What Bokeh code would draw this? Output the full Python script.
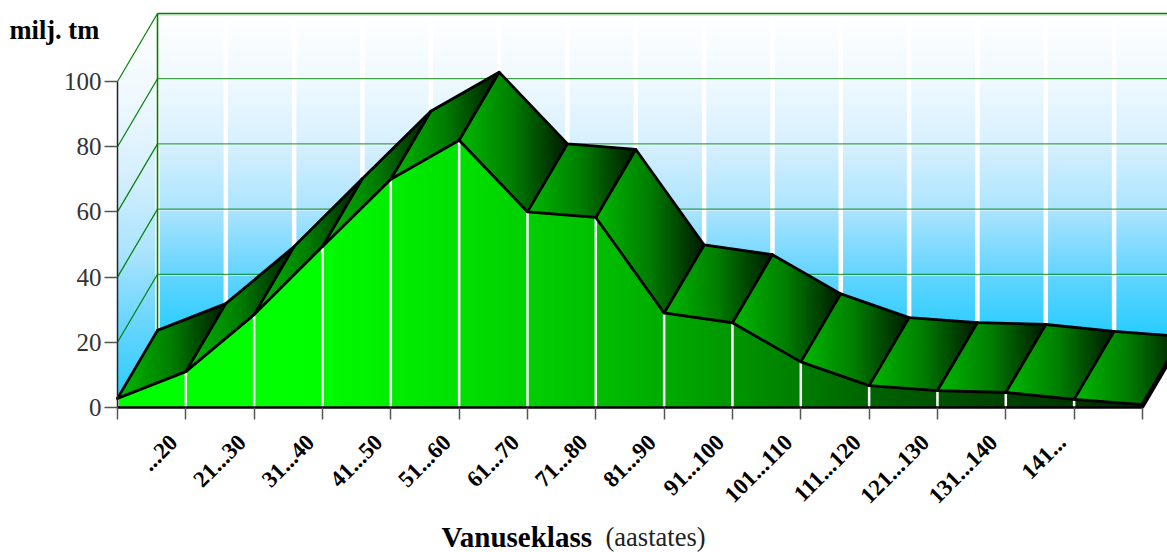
from bokeh.plotting import figure
from bokeh.models import ColumnDataSource, FixedTicker, Range1d
from bokeh.core.properties import value
from bokeh.embed import file_html
from bokeh.resources import INLINE
import numpy as np

classes = ["...20", "21...30", "31...40", "41...50", "51...60", "61...70", "71...80", "81...90",
           "91...100", "101...110", "111...120", "121...130", "131...140", "141..."]
volume = [2.8, 11.0, 28.5, 49.4, 70.0, 82.0, 60.0, 58.3, 29.0, 26.0, 14.0, 6.7, 5.2, 4.6, 2.5, 0.9]
y_ticks = [0, 20, 40, 60, 80, 100]
y_label = "milj. tm"
x_title_bold = "Vanuseklass"
x_title_rest = "(aastates)"

SERIF = "Liberation Serif"
W, H = 1167, 552
ORIGIN_X, ORIGIN_Y = 117, 407   # canvas position of the data origin
PX_X, PX_Y = 68.33, 3.26
DX, DY = 40 / PX_X, 68 / PX_Y
TOP = 100 + DY
N = len(volume) - 1
xs = list(range(N + 1))

wall_stops = [(0.0, (255, 255, 255)), (0.2, (240, 249, 255)), (0.4, (215, 240, 255)),
              (0.6, (172, 228, 255)), (0.8, (100, 212, 255)), (1.0, (34, 204, 255))]
front_stops = [(0.0, 255), (0.18, 255), (0.33, 225), (0.47, 190), (0.60, 150), (0.73, 100), (0.87, 65), (1.0, 40)]
panel_stops = [(0.0, 185), (0.5, 125), (1.0, 24)]


def rgb(c):
    return "#%02x%02x%02x" % tuple(int(round(v)) for v in c)


def wall_col(t):
    ts = [s[0] for s in wall_stops]
    return rgb([np.interp(t, ts, [s[1][k] for s in wall_stops]) for k in range(3)])


def green(t, stops):
    return rgb((0, np.interp(t, [s[0] for s in stops], [s[1] for s in stops]), 0))


def clip(poly, axis, lo, hi):
    def half(pts, keep, edge):
        out = []
        for i, a in enumerate(pts):
            b = pts[(i + 1) % len(pts)]
            if keep(a[axis]):
                out.append(a)
            if keep(a[axis]) != keep(b[axis]):
                t = (edge - a[axis]) / (b[axis] - a[axis])
                out.append((a[0] + t * (b[0] - a[0]), a[1] + t * (b[1] - a[1])))
        return out
    pts = half(poly, lambda v: v >= lo, lo)
    return half(pts, lambda v: v <= hi, hi) if pts else []


def strips(poly, axis, step_px, colfn, rng=None):
    """Cut a polygon into bands; each band runs on under the next one, so no seam shows."""
    scale = PX_X if axis == 0 else PX_Y
    vals = [q[axis] for q in poly]
    lo, hi = min(vals), max(vals)
    rlo, rhi = rng if rng else (lo, hi)
    k = int(np.floor(lo * scale / step_px))
    px, py, cs = [], [], []
    while k * step_px / scale < hi:
        a, b = k * step_px / scale, (k + 1) * step_px / scale
        part = clip(poly, axis, a, b + 2 * step_px / scale)
        if len(part) >= 3:
            px.append([q[0] for q in part])
            py.append([q[1] for q in part])
            cs.append(colfn(((a + b) / 2 - rlo) / (rhi - rlo)))
        k += 1
    return px, py, cs


p = figure(width=W, height=H, output_backend="svg", toolbar_location=None,
           x_range=Range1d(-ORIGIN_X / PX_X, (W - ORIGIN_X) / PX_X),
           y_range=Range1d(-(H - ORIGIN_Y) / PX_Y, ORIGIN_Y / PX_Y),
           min_border_left=0, min_border_right=0, min_border_top=0, min_border_bottom=0)
p.grid.visible = False
p.outline_line_color = None
p.background_fill_color = "white"
p.border_fill_color = "white"


def add(px, py, cs):
    p.patches(px, py, fill_color=cs, line_color=None)


# side wall and back wall
side = [(0, 0), (DX, DY), (DX, TOP), (0, 100)]
add(*strips(side, 1, 1, lambda t: wall_col(1 - t)))
back = [(DX, DY), (N + DX, DY), (N + DX, TOP), (DX, TOP)]
add(*strips(back, 1, 1, lambda t: wall_col(1 - t)))

# white back stripes
p.segment([i + DX for i in xs], [DY] * (N + 1), [i + DX for i in xs], [TOP] * (N + 1), line_color="white", line_width=4.5)

# grid
GRID = "#008000"
for t in y_ticks:
    if t == 100:
        p.line([DX, N + DX], [t + DY - 0.5] * 2, line_color="#b8e8b8", line_width=1)
        p.line([DX, N + DX], [t + DY] * 2, line_color=GRID, line_width=1.6)
    else:
        p.line([DX, N + DX], [t + DY - 0.35] * 2, line_color="white", line_alpha=0.55, line_width=1)
        p.line([DX, N + DX], [t + DY] * 2, line_color=GRID, line_width=1, line_alpha=0.9)
    if t > 0:
        p.line([0, DX], [t, t + DY], line_color=GRID, line_width=1.2)
p.line([DX, DX], [DY, TOP], line_color=GRID, line_width=1.6)

# front face
fx, fy, fc = [], [], []
for i in range(N):
    cell = [(i, 0), (i, volume[i]), (i + 1, volume[i + 1]), (i + 1, 0)]
    a, b, c = strips(cell, 0, 3, lambda t: green(t, front_stops), rng=(0, N))
    fx += a
    fy += b
    fc += c
add(fx, fy, fc)
p.segment(xs, [0] * (N + 1), xs, volume, line_color="white", line_width=2.5)

# top panels with their gradient
for i in range(N):
    quad = [(i, volume[i]), (i + 1, volume[i + 1]), (i + 1 + DX, volume[i + 1] + DY), (i + DX, volume[i] + DY)]
    add(*strips(quad, 0, 2, lambda t: green(t, panel_stops)))

# end sliver
p.patch([N, N + DX, N + DX, N], [0, DY, volume[-1] + DY, volume[-1]], fill_color="black", line_color="black", line_width=3)

EDGE = dict(line_color="black", line_width=2.8, line_join="round", line_cap="round")
p.line(xs, volume, **EDGE)
p.line([i + DX for i in xs], [v + DY for v in volume], **EDGE)
p.segment(xs, volume, [i + DX for i in xs], [v + DY for v in volume], **EDGE)

# axes, held at the data origin inside the full-canvas frame
ax = p.yaxis[0]
ax.fixed_location = 0
ax.bounds = (0, 100)
ax.ticker = FixedTicker(ticks=y_ticks)
ax.major_tick_in = 0
ax.major_tick_out = 13
ax.minor_tick_line_color = None
ax.major_tick_line_color = "#555555"
ax.major_tick_line_width = 1.5
ax.axis_line_color = "#222222"
ax.axis_line_width = 1.5
ax.major_label_text_font = SERIF
ax.major_label_text_font_size = "25px"
ax.major_label_text_color = "#333333"
ax.major_label_standoff = 3

bx = p.xaxis[0]
bx.fixed_location = 0
bx.bounds = (0, N)
bx.ticker = FixedTicker(ticks=xs)
bx.major_tick_in = 0
bx.major_tick_out = 12
bx.minor_tick_line_color = None
bx.major_tick_line_color = "#555555"
bx.major_tick_line_width = 1.5
bx.axis_line_color = "black"
bx.axis_line_width = 2.5
bx.major_label_overrides = {i: "" for i in xs}

src = ColumnDataSource(dict(x=[i + 0.5 for i in range(len(classes))], y=[0] * len(classes), t=classes))
p.text(x="x", y="y", text="t", source=src, angle=45, angle_units="deg",
       x_offset=22, y_offset=31, text_align="right", text_baseline="middle",
       text_font=value(SERIF), text_font_size="23px", text_font_style="bold", text_color="black")

# texts held to the same origin
p.text(x=[0], y=[0], text=[y_label], x_offset=9 - ORIGIN_X, y_offset=29 - ORIGIN_Y, text_font=value(SERIF),
       text_font_size="26.5px", text_font_style="bold", text_color="black", text_baseline="alphabetic")
p.text(x=[0], y=[0], text=[x_title_bold], x_offset=441 - ORIGIN_X, y_offset=536 - ORIGIN_Y, text_font=value(SERIF),
       text_font_size="29px", text_font_style="bold", text_color="black", text_baseline="alphabetic")
p.text(x=[0], y=[0], text=[x_title_rest], x_offset=605 - ORIGIN_X, y_offset=536 - ORIGIN_Y, text_font=value(SERIF),
       text_font_size="26.5px", text_color="#222222", text_baseline="alphabetic")

open("out.html", "w").write(file_html(p, INLINE))
